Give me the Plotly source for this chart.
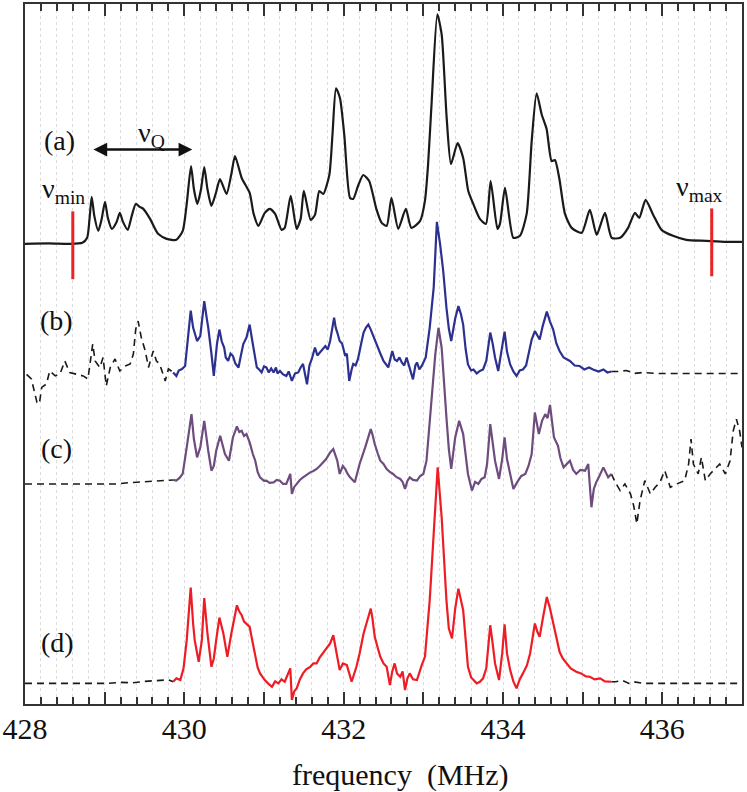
import plotly.graph_objects as go

# ---------------- data (frequency in MHz, intensity in arbitrary units) ----------------
SPEC_A = [
    (428.00, 0), (428.30, 0.5), (428.55, 0), (428.72, 1), (428.78, 6), (428.81, 25), (428.837, 47),
    (428.87, 28), (428.92, 13), (428.96, 24), (429.004, 42), (429.04, 26), (429.09, 15), (429.15, 22),
    (429.19, 31), (429.23, 22), (429.29, 14), (429.34, 28), (429.39, 40), (429.44, 37), (429.485, 35),
    (429.57, 25), (429.67, 10), (429.78, 5), (429.90, 4), (429.98, 13), (430.03, 40), (430.084, 78),
    (430.12, 55), (430.163, 40), (430.21, 55), (430.25, 77), (430.29, 55), (430.34, 38), (430.40, 52),
    (430.447, 65), (430.53, 50), (430.59, 70), (430.636, 88), (430.72, 66), (430.82, 51), (430.87, 30),
    (430.93, 18), (431.01, 31), (431.075, 35), (431.14, 30), (431.22, 14), (431.26, 16), (431.335, 48),
    (431.41, 15), (431.46, 25), (431.50, 53), (431.586, 24), (431.64, 29), (431.694, 53), (431.744, 50),
    (431.82, 69), (431.86, 110), (431.904, 156), (431.954, 146), (432.008, 109), (432.08, 46), (432.12, 45),
    (432.18, 58), (432.246, 69), (432.32, 63), (432.41, 35), (432.477, 21), (432.54, 18), (432.60, 46),
    (432.685, 15), (432.78, 35), (432.85, 16), (432.96, 23), (433.02, 43), (433.06, 80), (433.105, 143),
    (433.176, 230), (433.23, 210), (433.293, 126), (433.347, 80), (433.43, 101), (433.50, 86),
    (433.564, 53), (433.627, 40), (433.71, 25), (433.786, 20), (433.845, 63), (433.93, 15), (433.962, 20),
    (434.025, 56), (434.13, 6), (434.213, 8), (434.297, 30), (434.36, 103), (434.422, 151), (434.485, 130),
    (434.548, 115), (434.61, 83), (434.652, 84), (434.706, 66), (434.778, 30), (434.862, 16), (434.988, 11),
    (435.09, 34), (435.176, 9), (435.28, 31), (435.364, 6), (435.47, 6), (435.57, 16), (435.656, 31),
    (435.71, 26), (435.79, 44), (435.886, 29), (435.99, 14), (436.134, 8), (436.30, 4), (436.55, 3),
    (436.80, 2), (437.00, 2),
]

SPEC_B = [
    (428.02, -1), (428.08, -5.5), (428.15, -29), (428.18, -30.5), (428.21, -14), (428.27, -10.5),
    (428.31, 2.5), (428.38, -2.5), (428.44, -0.5), (428.50, 12.5), (428.56, 1), (428.65, -0.5),
    (428.73, -2.5), (428.79, -5.5), (428.85, 29.5), (428.88, 12.5), (428.94, 6), (428.98, 16),
    (429.02, -12.5), (429.07, 6), (429.13, 14.5), (429.19, 2.5), (429.26, 7.5), (429.32, 9.5),
    (429.36, 19.5), (429.39, 44.5), (429.42, 52.5), (429.46, 36), (429.51, 22.5), (429.55, 6),
    (429.61, 22.5), (429.65, 12.5), (429.69, 9.5), (429.76, -7.5), (429.80, 4.5), (429.86, 1),
    (429.90, -2.5), (429.93, 3), (429.97, 4.5), (430.01, 7.5), (430.04, 29.5), (430.08, 63),
    (430.11, 46), (430.14, 36), (430.16, 32.5), (430.20, 37.5), (430.25, 72.5), (430.28, 56),
    (430.30, 46), (430.34, 20), (430.37, -2.5), (430.41, 30), (430.44, 44), (430.47, 32),
    (430.50, 26), (430.52, 16), (430.55, 12.5), (430.58, 20), (430.61, 17.5), (430.64, 10),
    (430.68, 6), (430.71, 18), (430.74, 29.5), (430.78, 36), (430.82, 49), (430.85, 34),
    (430.87, 24), (430.91, 6), (430.94, 4), (430.97, 1), (431.00, 7), (431.03, 6), (431.06, 1),
    (431.09, 5), (431.12, 1), (431.15, 6), (431.17, 0), (431.20, 2.5), (431.24, -1), (431.28, -2.5),
    (431.31, 2), (431.35, -7.5), (431.39, 0), (431.43, 1), (431.46, 6), (431.49, 9.5), (431.54, -11),
    (431.57, 8), (431.60, 14.5), (431.64, 26), (431.67, 18), (431.70, 21), (431.74, 24),
    (431.77, 27.5), (431.80, 24), (431.83, 32.5), (431.88, 56), (431.90, 46), (431.92, 41),
    (431.95, 32.5), (431.98, 30), (432.02, 17.5), (432.04, 20), (432.07, -7.5), (432.10, 4),
    (432.12, 9.5), (432.15, 8), (432.18, 14.5), (432.22, 30), (432.25, 41), (432.28, 46),
    (432.31, 49), (432.34, 44), (432.37, 37.5), (432.40, 33), (432.43, 26), (432.46, 20),
    (432.50, 12.5), (432.53, 9), (432.56, 6), (432.61, 22.5), (432.64, 14), (432.67, 12.5),
    (432.70, 16), (432.73, 11), (432.76, 8), (432.79, 16), (432.83, 6), (432.87, -6), (432.90, 8),
    (432.92, 11), (432.95, 4), (432.98, 7.5), (433.03, 16), (433.08, 46), (433.13, 86), (433.17, 152),
    (433.21, 130), (433.25, 102.5), (433.29, 66), (433.32, 45), (433.35, 32.5), (433.40, 55),
    (433.44, 67.5), (433.47, 60), (433.50, 49), (433.53, 25), (433.56, 9), (433.60, 3), (433.63, 4),
    (433.67, 0), (433.71, 2.5), (433.75, 4), (433.79, 12.5), (433.84, 41), (433.87, 30), (433.90, 16),
    (433.94, 2.5), (433.98, 22), (434.02, 42), (434.05, 22), (434.09, 9), (434.13, 2), (434.17, -2.5),
    (434.21, 3), (434.25, 4), (434.29, 8), (434.32, 19), (434.36, 34), (434.40, 42.5), (434.43, 38),
    (434.46, 34), (434.50, 48), (434.55, 62), (434.59, 52), (434.63, 44), (434.67, 30), (434.71, 22.5),
    (434.76, 16), (434.80, 14), (434.84, 12.5), (434.90, 8), (434.96, 7.5), (435.02, 4), (435.08, 6),
    (435.13, 4), (435.20, 2), (435.26, 4), (435.31, 1), (435.36, 2),
    (435.45, 2), (435.55, 3), (435.65, 0), (435.76, 1), (435.93, 0), (437.00, 0),
]

SPEC_C = [
    (428.00, 0), (429.15, 0), (429.26, 1), (429.38, 1.5), (429.51, 2), (429.63, 2.5), (429.76, 3.5),
    (429.86, 4), (429.90, 3.3), (429.94, 6), (429.98, 10.3), (430.03, 36.6), (430.09, 70),
    (430.12, 45), (430.16, 26.6), (430.20, 36.6), (430.25, 63.3), (430.30, 33.3), (430.34, 13.3),
    (430.37, 18), (430.40, 33.3), (430.45, 48.3), (430.48, 38), (430.51, 30), (430.56, 23.3),
    (430.61, 46.6), (430.66, 57.6), (430.69, 52), (430.72, 53.3), (430.75, 48), (430.78, 50),
    (430.82, 41.6), (430.86, 30), (430.89, 23.3), (430.92, 12), (430.95, 6.6), (431.00, 3),
    (431.03, 3.3), (431.07, 1), (431.12, 1.6), (431.16, 4), (431.20, 3.3), (431.24, 0), (431.28, 0),
    (431.33, 10), (431.35, -10), (431.38, -3), (431.41, 0), (431.45, 4), (431.49, 6.6), (431.53, 9),
    (431.58, 11.6), (431.62, 13), (431.66, 15), (431.70, 18), (431.74, 21.6), (431.78, 25),
    (431.83, 31.6), (431.87, 35), (431.92, 23.3), (431.95, 10), (431.99, 18), (432.02, 15),
    (432.05, 10), (432.08, 6.6), (432.14, 1.6), (432.17, 10), (432.20, 20), (432.27, 36.6),
    (432.34, 55), (432.36, 50), (432.39, 40), (432.43, 30), (432.46, 23.3), (432.50, 20),
    (432.54, 15), (432.58, 12), (432.62, 10), (432.66, 7), (432.71, 5), (432.74, 2), (432.77, -5),
    (432.80, 3), (432.83, 6.6), (432.87, 4), (432.92, 3.3), (432.96, 8), (433.00, 10), (433.04, 23.3),
    (433.10, 80), (433.15, 130), (433.19, 156.6), (433.23, 136.6), (433.29, 66.6), (433.32, 35),
    (433.35, 15), (433.40, 46.6), (433.45, 63.3), (433.50, 50), (433.53, 30), (433.56, 10),
    (433.61, -6.7), (433.65, 2), (433.69, 0), (433.73, 5), (433.77, 6.6), (433.80, 20), (433.84, 60),
    (433.87, 40), (433.90, 23.3), (433.95, 5), (433.99, 25), (434.02, 46.6), (434.05, 25),
    (434.09, 10), (434.13, -5), (434.19, 3.3), (434.23, 8), (434.28, 10), (434.32, 18), (434.36, 30),
    (434.40, 71.6), (434.45, 50), (434.49, 63.3), (434.53, 70), (434.56, 66), (434.59, 79.3),
    (434.64, 46.6), (434.69, 38.3), (434.72, 26), (434.76, 16.6), (434.80, 20), (434.84, 23.3),
    (434.88, 14), (434.92, 10), (434.97, 14), (435.03, 13.3), (435.07, 20), (435.11, -23.4),
    (435.14, -5), (435.17, 1.6), (435.21, 8), (435.26, 16.6), (435.32, 6.6), (435.36, 10),
    (435.41, 1.6), (435.47, -6.7), (435.53, 0), (435.60, -10), (435.64, -21.7),
    (435.68, -40), (435.72, -16.7), (435.78, 3.3), (435.85, -10), (435.91, -3.4), (435.97, 1.6),
    (436.03, 13.3), (436.10, -3.4), (436.18, 0), (436.28, 3.3), (436.33, 20), (436.36, 45),
    (436.39, 20), (436.45, 10), (436.49, 26.6), (436.54, 3.3), (436.60, 10), (436.66, 15),
    (436.72, 20), (436.79, 10), (436.85, 23.3), (436.89, 53.3), (436.93, 65), (436.97, 53.3),
    (437.00, 36.6),
]

SPEC_D = [
    (428.00, 0), (429.03, 0), (429.20, 1), (429.35, 0.5), (429.50, 2), (429.65, 2.5), (429.80, 3.5),
    (429.86, 1.6), (429.90, 5), (429.95, 3.3), (429.99, 15), (430.03, 43.3), (430.08, 96),
    (430.11, 60), (430.13, 43.3), (430.18, 21.6), (430.22, 43.3), (430.25, 85.6), (430.29, 50),
    (430.34, 16.6), (430.37, 25), (430.40, 43.3), (430.44, 66), (430.49, 50), (430.54, 26.6),
    (430.59, 50), (430.66, 78.3), (430.69, 72), (430.72, 68.3), (430.75, 62), (430.78, 60),
    (430.82, 56.6), (430.86, 40), (430.89, 26.6), (430.92, 16), (430.95, 10), (430.98, 6),
    (431.01, 3.3), (431.05, 0), (431.10, -3.4), (431.14, 2), (431.18, 0), (431.22, 4), (431.26, 1.6),
    (431.33, 15), (431.35, -16.7), (431.38, -8), (431.41, -5), (431.45, 4), (431.49, 10),
    (431.53, 14), (431.58, 16.6), (431.62, 20), (431.66, 20), (431.70, 26), (431.74, 30),
    (431.78, 34), (431.83, 40), (431.87, 48.3), (431.92, 26.6), (431.95, 13.3), (431.99, 20),
    (432.04, 18.3), (432.07, 10), (432.10, 1.6), (432.16, 16.6), (432.20, 30), (432.25, 50),
    (432.34, 75), (432.36, 66), (432.39, 46.6), (432.43, 35), (432.46, 26.6), (432.50, 20),
    (432.54, 16.6), (432.58, -1.7), (432.61, 12), (432.64, 20), (432.67, 10), (432.71, 6.6),
    (432.74, 12), (432.77, -6.7), (432.80, 5), (432.83, 10), (432.87, 4), (432.92, 3.3),
    (432.95, 12), (432.98, 18.3), (433.02, 26.6), (433.08, 83.3), (433.13, 150), (433.18, 216.6),
    (433.23, 166.6), (433.29, 83.3), (433.32, 55), (433.36, 45), (433.40, 75), (433.44, 95),
    (433.50, 73.3), (433.53, 40), (433.56, 16.6), (433.60, 6), (433.63, 3.3), (433.67, 0),
    (433.71, 1.6), (433.75, 5), (433.79, 15), (433.84, 58.3), (433.87, 40), (433.90, 20),
    (433.95, 3.3), (433.99, 30), (434.02, 59.3), (434.05, 30), (434.09, 13.3), (434.13, 2),
    (434.17, -5), (434.21, 4), (434.25, 10), (434.30, 18), (434.34, 30), (434.40, 60), (434.43, 52),
    (434.46, 46.6), (434.50, 65), (434.55, 86.6), (434.59, 75), (434.63, 60), (434.67, 45),
    (434.71, 31.6), (434.75, 25), (434.80, 20), (434.85, 15), (434.92, 11.6), (434.98, 10),
    (435.04, 7), (435.09, 6.6), (435.15, 4), (435.22, 5), (435.28, 2), (435.36, 1.6),
    (435.41, 1.6), (435.50, 3), (435.58, 0), (435.64, 1.6), (435.76, 0), (437.00, 0),
]

MEASURED_RANGE = (429.86, 435.36)   # coloured (measured) part of (b)-(d)
NU_MIN = 428.60
NU_MAX = 436.62
NU_Q = (428.84, 430.10)
X_TICKS = [428, 429, 430, 431, 432, 433, 434, 435, 436, 437]
X_TICK_TEXT = ["428", "", "430", "", "432", "", "434", "", "436", ""]

# ---------------- figure ----------------
OFFSETS = {"a": 461.5, "b": 331.5, "c": 220.7, "d": 20.7}
COLORS = {"a": "#1a1a1a", "b": "#2c3190", "c": "#6e4c7e", "d": "#ee1c24"}

fig = go.Figure()

xa, ya = zip(*SPEC_A)
fig.add_trace(go.Scatter(x=list(xa), y=[v + OFFSETS["a"] for v in ya], mode="lines",
                         line=dict(color=COLORS["a"], width=2.2, shape="spline", smoothing=0.6),
                         hoverinfo="skip"))

lo, hi = MEASURED_RANGE
for key, spec in (("b", SPEC_B), ("c", SPEC_C), ("d", SPEC_D)):
    off = OFFSETS[key]
    left = [p for p in spec if p[0] <= lo]
    mid = [p for p in spec if lo <= p[0] <= hi]
    right = [p for p in spec if p[0] >= hi]
    for seg in (left, right):
        if len(seg) > 1:
            sx, sy = zip(*seg)
            fig.add_trace(go.Scatter(x=list(sx), y=[v + off for v in sy], mode="lines",
                                     line=dict(color="#1a1a1a", width=1.6, dash="7px,5px"),
                                     hoverinfo="skip"))
    mx, my = zip(*mid)
    fig.add_trace(go.Scatter(x=list(mx), y=[v + off for v in my], mode="lines",
                             line=dict(color=COLORS[key], width=2.2), hoverinfo="skip"))

SERIF = "Liberation Serif, Times New Roman, serif"
ann = []
for key, (lx, ly) in {"a": (428.43, 565), "b": (428.40, 385), "c": (428.40, 256), "d": (428.41, 62)}.items():
    ann.append(dict(x=lx, y=ly, xref="x", yref="y", text=f"({key})", showarrow=False,
                    font=dict(size=28, family=SERIF, color="#111")))
ann.append(dict(x=429.59, y=571, xref="x", yref="y", text="ν<sub>Q</sub>", showarrow=False,
                font=dict(size=28, family=SERIF, color="#111")))
ann.append(dict(x=NU_Q[1], y=556, ax=NU_Q[0], ay=556, xref="x", yref="y", axref="x", ayref="y",
                text="", showarrow=True, arrowhead=2, startarrowhead=2, arrowside="end+start",
                arrowwidth=2.5, arrowsize=1.1, startarrowsize=1.1, arrowcolor="#111"))
ann.append(dict(x=428.48, y=515, xref="x", yref="y", text="ν<sub>min</sub>", showarrow=False,
                font=dict(size=28, family=SERIF, color="#111")))
ann.append(dict(x=436.47, y=517, xref="x", yref="y", text="ν<sub>max</sub>", showarrow=False,
                font=dict(size=28, family=SERIF, color="#111")))
ann.append(dict(x=(400 - 25) / 717, y=(704 - 775) / 702, xref="paper", yref="paper",
                text="frequency\u00a0 (MHz)", showarrow=False, yanchor="middle",
                font=dict(size=30, family=SERIF, color="#111")))

shapes = [
    dict(type="line", xref="x", yref="y", x0=NU_MIN, x1=NU_MIN, y0=426, y1=494,
         line=dict(color="#ee2222", width=3)),
    dict(type="line", xref="x", yref="y", x0=NU_MAX, x1=NU_MAX, y0=429, y1=497,
         line=dict(color="#ee2222", width=3)),
]

fig.update_layout(
    width=747, height=792,
    margin=dict(l=25, r=5, t=2, b=88),
    plot_bgcolor="white", paper_bgcolor="white",
    showlegend=False,
    font=dict(family=SERIF, color="#111"),
    annotations=ann, shapes=shapes,
    xaxis=dict(range=[428, 437], tickmode="array", tickvals=X_TICKS, ticktext=X_TICK_TEXT,
               ticks="inside", ticklen=12, tickwidth=2, tickcolor="#333",
               showline=True, linewidth=2, linecolor="#333", mirror="ticks",
               showgrid=True, gridcolor="#dcdcdc", griddash="dot", gridwidth=1,
               zeroline=False, tickfont=dict(size=30, family=SERIF, color="#111"),
               ticklabelstandoff=-3,
               minor=dict(tickmode="linear", tick0=428, dtick=0.2, ticks="inside", ticklen=7,
                          tickwidth=1.5, tickcolor="#333", showgrid=True, gridcolor="#dcdcdc",
                          griddash="dot", gridwidth=1)),
    yaxis=dict(range=[0, 702], showticklabels=False, ticks="", showgrid=False, zeroline=False,
               showline=True, linewidth=2, linecolor="#333", mirror=True),
)

fig.write_html("out.html", config={"displayModeBar": False},
               post_script="document.body.style.margin='0px';")
